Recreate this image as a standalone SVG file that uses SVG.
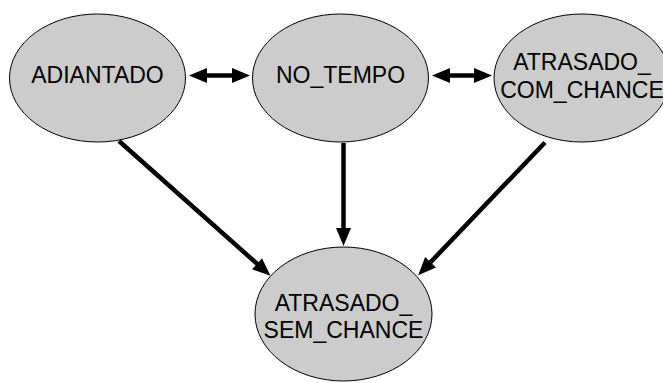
<svg xmlns="http://www.w3.org/2000/svg" width="663" height="383" viewBox="0 0 663 383">
<style>
.node ellipse{fill:#cccccc;stroke:#000;stroke-width:1}
.node text{font-family:"Liberation Sans",Arial,sans-serif;font-size:23px;fill:#000;text-anchor:middle}
.edges line{stroke:#000;stroke-width:4.5;fill:none}
</style>
<defs>
<marker id="ah" markerUnits="userSpaceOnUse" markerWidth="18" markerHeight="15" refX="4" refY="7.5" orient="auto-start-reverse" overflow="visible">
<path d="M0,0 L18,7.5 L0,15 z" fill="#000"/>
</marker>
</defs>
<rect width="663" height="383" fill="#fff"/>
<g class="edges">
<line x1="203" y1="75.5" x2="236" y2="75.5" marker-start="url(#ah)" marker-end="url(#ah)"/>
<line x1="446" y1="75.5" x2="478" y2="75.5" marker-start="url(#ah)" marker-end="url(#ah)"/>
<line x1="119" y1="141" x2="260" y2="266.4" marker-end="url(#ah)"/>
<line x1="343.5" y1="143" x2="343.5" y2="232" marker-end="url(#ah)"/>
<line x1="545" y1="142.5" x2="427.8" y2="265.1" marker-end="url(#ah)"/>
</g>
<g id="adiantado" class="node">
<ellipse cx="97.5" cy="78" rx="88" ry="64"/>
<text x="97.5" y="83">ADIANTADO</text>
</g>
<g id="no_tempo" class="node">
<ellipse cx="340.5" cy="78" rx="88" ry="64"/>
<text x="340.5" y="83">NO_TEMPO</text>
</g>
<g id="atrasado_com_chance" class="node">
<ellipse cx="582" cy="78" rx="88" ry="64"/>
<text x="582" y="70">ATRASADO_</text>
<text x="582" y="98">COM_CHANCE</text>
</g>
<g id="atrasado_sem_chance" class="node">
<ellipse cx="343.5" cy="314" rx="88.5" ry="67"/>
<text x="343.5" y="311">ATRASADO_</text>
<text x="343.5" y="338">SEM_CHANCE</text>
</g>
</svg>
